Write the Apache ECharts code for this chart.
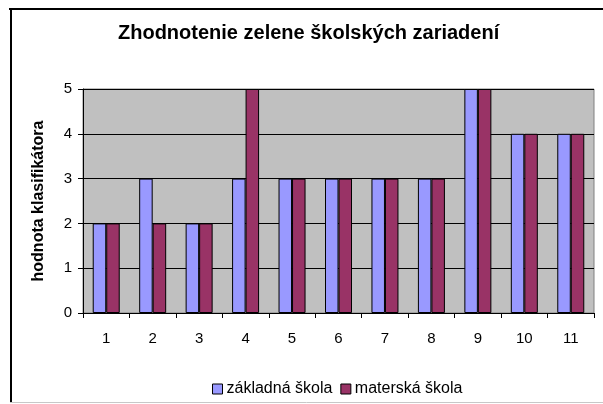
<!DOCTYPE html>
<html>
<head>
<meta charset="UTF-8">
<title>Zhodnotenie zelene</title>
<script src="https://cdn.jsdelivr.net/npm/echarts@6/dist/echarts.min.js"></script>
</head>
<body style="margin:0">
<div id="container" style="width:603px;height:404px"></div>
<script type="text/javascript">
    var categories = ['1', '2', '3', '4', '5', '6', '7', '8', '9', '10', '11'];
    var zakladna = [2, 3, 2, 3, 3, 3, 3, 3, 5, 4, 4];
    var materska = [2, 2, 2, 5, 3, 3, 3, 3, 5, 4, 4];
    var seriesNames = ['základná škola', 'materská škola'];

    var myChart = echarts.init(document.getElementById('container'));
    var font = 'Liberation Sans, Arial, sans-serif';

    var option = {
        backgroundColor: '#fff',
        animation: false,
        title: {
            text: 'Zhodnotenie zelene školských zariadení',
            left: 118,
            top: 23,
            padding: 0,
            textStyle: { fontFamily: font, fontSize: 20, fontWeight: 'bold', color: '#000' }
        },
        legend: {
            data: seriesNames,
            left: 212,
            top: 381,
            padding: 0,
            itemWidth: 10,
            itemHeight: 10,
            itemGap: 8,
            icon: 'rect',
            textStyle: { fontFamily: font, fontSize: 16, color: '#000', padding: [0, 0, 0, -1] },
            itemStyle: { borderColor: '#000', borderWidth: 1 }
        },
        graphic: [
            { type: 'line', shape: { x1: 9, y1: 9, x2: 603, y2: 9 }, style: { stroke: '#000', lineWidth: 2 } },
            { type: 'line', shape: { x1: 11, y1: 8, x2: 11, y2: 402 }, style: { stroke: '#000', lineWidth: 2 } },
            { type: 'line', shape: { x1: 10, y1: 402.5, x2: 603, y2: 402.5 }, style: { stroke: '#c8c8c8', lineWidth: 1 } }
        ],
        grid: {
            left: 83, right: 9, top: 89, bottom: 91,
            show: true,
            backgroundColor: '#c0c0c0',
            borderColor: '#808080',
            borderWidth: 1
        },
        xAxis: {
            type: 'category',
            data: categories,
            axisLine: { lineStyle: { color: '#000' } },
            axisTick: { show: true, length: 5, lineStyle: { color: '#000' } },
            axisLabel: { fontFamily: font, fontSize: 15, color: '#000', margin: 18 }
        },
        yAxis: {
            type: 'value',
            min: 0, max: 5, interval: 1,
            name: 'hodnota klasifikátora',
            nameLocation: 'middle',
            nameGap: 36,
            nameTextStyle: { fontFamily: font, fontSize: 16, fontWeight: 'bold', color: '#000' },
            axisLine: { show: true, lineStyle: { color: '#000' } },
            axisTick: { show: true, length: 5, lineStyle: { color: '#000' } },
            axisLabel: { fontFamily: font, fontSize: 15, color: '#000', margin: 11 },
            splitLine: { show: true, lineStyle: { color: '#000', width: 1 } }
        },
        series: [
            {
                name: seriesNames[0],
                type: 'bar',
                data: zakladna,
                barWidth: 13.5,
                barGap: '0%',
                itemStyle: { color: '#9999ff', borderColor: '#000', borderWidth: 1 }
            },
            {
                name: seriesNames[1],
                type: 'bar',
                data: materska,
                barWidth: 13.5,
                itemStyle: { color: '#993366', borderColor: '#000', borderWidth: 1 }
            }
        ]
    };
    myChart.setOption(option);
</script>
</body>
</html>
